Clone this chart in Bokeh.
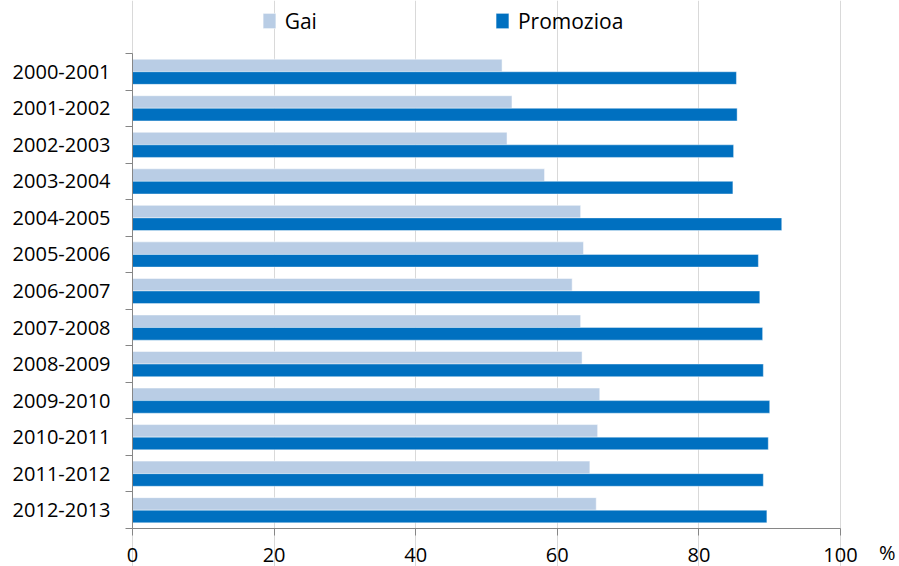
from bokeh.plotting import figure
from bokeh.models import (Range1d, LinearAxis, FixedTicker, Legend, LegendItem, Label,
                          ColumnDataSource)
from bokeh.transform import dodge
from bokeh.embed import file_html
from bokeh.resources import INLINE

categories = ["2000-2001", "2001-2002", "2002-2003", "2003-2004", "2004-2005", "2005-2006",
              "2006-2007", "2007-2008", "2008-2009", "2009-2010", "2010-2011", "2011-2012",
              "2012-2013"]
gai = [52.2, 53.6, 52.9, 58.2, 63.3, 63.7, 62.1, 63.3, 63.5, 66.0, 65.7, 64.6, 65.5]
promozioa = [85.3, 85.4, 84.9, 84.8, 91.7, 88.4, 88.6, 89.0, 89.1, 90.0, 89.8, 89.1, 89.6]
x_ticks = [0, 20, 40, 60, 80, 100]
series_names = ["Gai", "Promozioa"]
unit_label = "%"

FONT = "Open Sans"
FS = "20px"
AXIS_COLOR = "#868686"

n = len(categories)
# category slot centres, first category on top
pos = [n - i - 0.5 for i in range(n)]

W, H = 899, 566
LEFT, RIGHT_PX, TOP_PX, BOTTOM_PX = 132, 840, 53, 528
px_x = (RIGHT_PX - LEFT) / 100.0
px_y = (BOTTOM_PX - TOP_PX) / n

p = figure(width=W, height=H, output_backend="svg", toolbar_location=None,
           y_range=Range1d(-(H - BOTTOM_PX) / px_y, n + TOP_PX / px_y),
           x_range=Range1d(-LEFT / px_x, 100 + (W - RIGHT_PX) / px_x),
           y_axis_location=None, x_axis_location=None,
           min_border_left=0, min_border_right=0, min_border_top=0, min_border_bottom=0)
p.outline_line_color = None
p.background_fill_color = "white"
p.border_fill_color = "white"

src = ColumnDataSource(dict(cat=categories, pos=pos, gai=gai, promo=promozioa))
r_gai = p.hbar(y=dodge("pos", 0.172), right="gai", left=0, height=0.345,
               source=src, fill_color="#b9cde5", line_color="#ffffff", line_alpha=0.5, line_width=1)
r_pro = p.hbar(y=dodge("pos", -0.172), right="promo", left=0, height=0.345,
               source=src, fill_color="#0070c0", line_color="#ffffff", line_alpha=0.4, line_width=1)

p.xgrid.ticker = FixedTicker(ticks=x_ticks)
p.xgrid.grid_line_color = "#d9d9d9"
p.xgrid.bounds = (0, n)
p.ygrid.grid_line_color = None

# x axis, fixed at y = 0
xa = LinearAxis(ticker=FixedTicker(ticks=x_ticks), fixed_location=0, bounds=(0, 100))
xa.axis_line_color = AXIS_COLOR
xa.major_tick_line_color = AXIS_COLOR
xa.major_tick_out = 7
xa.major_tick_in = 0
xa.minor_tick_line_color = None
xa.major_label_standoff = 12
xa.major_label_text_font = FONT
xa.major_label_text_font_size = FS
xa.major_label_text_color = "#000000"
p.add_layout(xa, "below")

# y tick axis (ticks at category boundaries), fixed at x = 0
bounds = list(range(n + 1))
ya_ticks = LinearAxis(ticker=FixedTicker(ticks=bounds), bounds=(0, n), fixed_location=0)
ya_ticks.major_label_overrides = {b: "" for b in bounds}
ya_ticks.major_label_standoff = 0
ya_ticks.major_tick_out = 7
ya_ticks.major_tick_in = 0
ya_ticks.minor_tick_line_color = None
ya_ticks.axis_line_color = AXIS_COLOR
ya_ticks.major_tick_line_color = AXIS_COLOR
p.add_layout(ya_ticks, "left")

# y label axis (labels at category centres)
ya = LinearAxis(ticker=FixedTicker(ticks=pos), fixed_location=0)
ya.major_label_overrides = {pp: c for pp, c in zip(pos, categories)}
ya.axis_line_color = None
ya.major_tick_line_color = None
ya.minor_tick_line_color = None
ya.major_tick_out = 0
ya.major_tick_in = 0
ya.major_label_standoff = 22
ya.major_label_text_font = FONT
ya.major_label_text_font_size = FS
ya.major_label_text_color = "#000000"
p.add_layout(ya, "left")

# legend
legend = Legend(items=[LegendItem(label=series_names[0], renderers=[r_gai]),
                       LegendItem(label=series_names[1], renderers=[r_pro])],
                orientation="horizontal", location=(260.7, 531.5))
legend.glyph_width = 16
legend.glyph_height = 19
legend.label_standoff = 8
legend.spacing = 177
legend.padding = 0
legend.margin = 0
legend.border_line_color = None
legend.background_fill_alpha = 0
legend.label_text_font = FONT
legend.label_text_font_size = "21px"
legend.label_text_color = "#000000"
p.add_layout(legend, "center")

pct = Label(x=106.6, y=-(565 - BOTTOM_PX) / px_y, x_units="data", y_units="data", text=unit_label,
            text_font=FONT, text_font_size=FS, text_color="#000000",
            text_align="center", text_baseline="bottom")
p.add_layout(pct)

open("out.html", "w").write(file_html(p, INLINE))
